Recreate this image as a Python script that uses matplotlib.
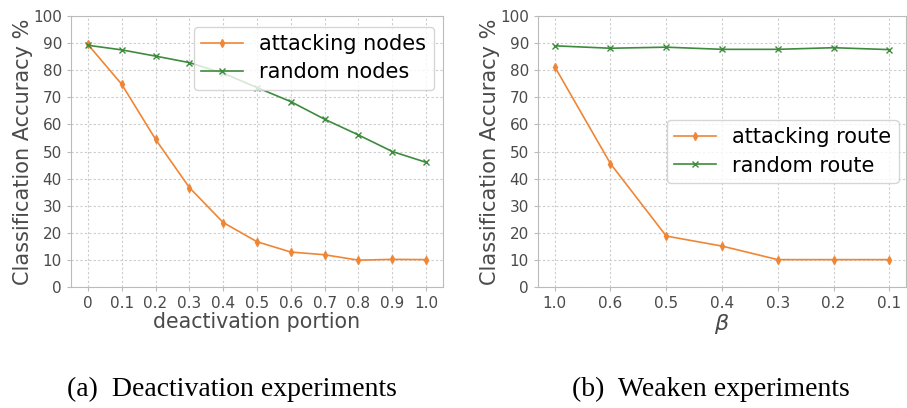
import matplotlib.pyplot as plt

# deactivation experiments
portion = [0, 0.1, 0.2, 0.3, 0.4, 0.5, 0.6, 0.7, 0.8, 0.9, 1.0]
portion_labels = ["0", "0.1", "0.2", "0.3", "0.4", "0.5", "0.6", "0.7", "0.8", "0.9", "1.0"]
attack_nodes = [89.5, 74.8, 54.5, 36.7, 23.8, 16.7, 12.9, 11.9, 9.9, 10.2, 10.1]
random_nodes = [89.2, 87.5, 85.2, 82.8, 78.9, 73.6, 68.4, 61.9, 56.1, 50.0, 46.0]

# weaken experiments
beta_labels = ["1.0", "0.6", "0.5", "0.4", "0.3", "0.2", "0.1"]
attack_route = [81.3, 45.5, 18.8, 15.1, 10.1, 10.1, 10.1]
random_route = [89.0, 88.1, 88.5, 87.7, 87.7, 88.3, 87.6]

orange = "#ef8636"
green = "#3d8b3d"
tick_col = "#4a4a4a"

fig = plt.figure(figsize=(9.07, 4.08), dpi=100)
ax1 = fig.add_axes([71 / 907, 1 - 287 / 408, 372 / 907, 271 / 408])
ax2 = fig.add_axes([538 / 907, 1 - 287 / 408, 368 / 907, 271 / 408])


def style(ax):
    ax.set_ylim(0, 100)
    ax.set_yticks(range(0, 101, 10))
    ax.grid(True, linestyle=(0, (2, 2)), color="#cccccc", linewidth=0.8)
    for s in ax.spines.values():
        s.set_color("#bbbbbb")
    ax.tick_params(colors="#bbbbbb", labelcolor=tick_col, labelsize=11, length=3)
    ax.set_ylabel("Classification Accuracy %", fontsize=15, color=tick_col, labelpad=0)


ax1.plot(portion, attack_nodes, color=orange, marker="d", markersize=4, linewidth=1.2,
         label="attacking nodes")
ax1.plot(portion, random_nodes, color=green, marker="x", markersize=4, linewidth=1.2,
         label="random nodes")
style(ax1)
ax1.set_xticks(portion)
ax1.set_xticklabels(portion_labels)
ax1.set_xlabel("deactivation portion", fontsize=14.8, color=tick_col, labelpad=1)
ax1.legend(loc="upper right", fontsize=15, handlelength=2, handletextpad=0.8,
           borderpad=0.35, labelspacing=0.4, borderaxespad=0,
           bbox_to_anchor=(0.975, 0.96))

xb = range(len(beta_labels))
ax2.plot(xb, attack_route, color=orange, marker="d", markersize=4, linewidth=1.2,
         label="attacking route")
ax2.plot(xb, random_route, color=green, marker="x", markersize=4, linewidth=1.2,
         label="random route")
style(ax2)
ax2.set_xticks(list(xb))
ax2.set_xticklabels(beta_labels)
ax2.set_xlabel(r"$\beta$", fontsize=16, color=tick_col, labelpad=1)
ax2.legend(loc="center right", fontsize=15, handlelength=2, handletextpad=0.8,
           borderpad=0.35, labelspacing=0.4, borderaxespad=0,
           bbox_to_anchor=(0.98, 0.5))

fig.text(232 / 907, 1 - 389 / 408, "(a)  Deactivation experiments", family="Liberation Serif",
         fontsize=20, ha="center", va="center")
fig.text(711 / 907, 1 - 389 / 408, "(b)  Weaken experiments", family="Liberation Serif",
         fontsize=20, ha="center", va="center")

fig.savefig("out.png", dpi=100)
